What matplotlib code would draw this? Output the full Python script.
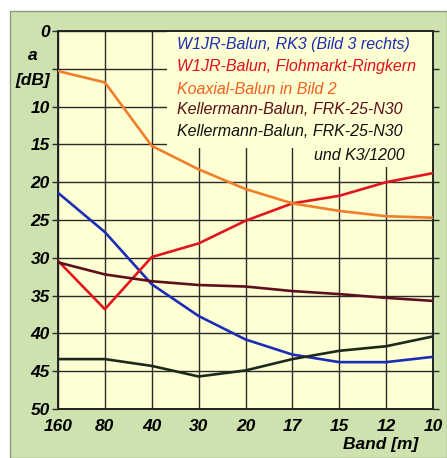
import matplotlib
matplotlib.use("Agg")
import matplotlib.pyplot as plt
from matplotlib.patches import Rectangle, Polygon

plt.rcParams["font.family"] = ["Liberation Sans", "DejaVu Sans"]

# Daten
bands = ["160", "80", "40", "30", "20", "17", "15", "12", "10"]
db_ticks = list(range(0, 51, 5))
db_labels = ["0", "", "10", "15", "20", "25", "30", "35", "40", "45", "50"]
w1jr_rk3 = [21.4, 26.6, 33.5, 37.7, 40.8, 42.8, 43.8, 43.8, 43.1]
w1jr_floh = [30.4, 36.8, 29.9, 28.1, 25.1, 22.8, 21.8, 20.0, 18.8]
koaxial = [5.3, 6.8, 15.2, 18.3, 20.9, 22.8, 23.8, 24.5, 24.7]
keller_frk = [30.6, 32.2, 33.1, 33.6, 33.8, 34.4, 34.8, 35.3, 35.7]
keller_k3 = [43.4, 43.4, 44.3, 45.7, 44.9, 43.4, 42.3, 41.7, 40.4]

names = [
    "W1JR-Balun, RK3 (Bild 3 rechts)",
    "W1JR-Balun, Flohmarkt-Ringkern",
    "Koaxial-Balun in Bild 2",
    "Kellermann-Balun, FRK-25-N30",
    "Kellermann-Balun, FRK-25-N30",
]
colors = ["#1c2db5", "#e0161e", "#f07e2a", "#5e0f1e", "#1b2a1c"]
text_colors = ["#1c2db5", "#e0101a", "#f0601e", "#5a0f1a", "#111111"]

fig = plt.figure(figsize=(4.47, 4.58), dpi=100)
fig.patch.set_facecolor("white")
# gruener Hintergrund
fig.patches.append(Rectangle((10 / 447, 0), 437 / 447, 1 - 11 / 458,
                             transform=fig.transFigure, facecolor="#cde2ae",
                             edgecolor="#8a9a80", linewidth=1.0, zorder=-5))

ax = fig.add_axes([58 / 447, 1 - 409 / 458, 375 / 447, 378 / 458])
ax.set_facecolor("#ffffd4")
x = list(range(len(bands)))
ax.set_xlim(0, len(bands) - 1)
ax.set_ylim(50, 0)
ax.set_yticks(db_ticks)
ax.set_yticklabels(db_labels)
ax.set_xticks(x)
ax.set_xticklabels(bands)
ax.grid(True, color="#2a2a2a", linewidth=1.0, zorder=1)
ax.set_axisbelow(True)
for s in ax.spines.values():
    s.set_color("#222222")
    s.set_linewidth(1.4)
ax.tick_params(axis="y", length=4, width=1.0, color="#2a2a2a", right=True, pad=2)
ax.tick_params(axis="x", length=0, pad=7)
for lab in ax.get_xticklabels() + ax.get_yticklabels():
    lab.set_fontsize(12.5)
    lab.set_fontstyle("italic")
    lab.set_fontweight("bold")

# Kasten fuer die Legende (verdeckt das Gitter)
box = Polygon([(0.29, 1.0), (1.0, 1.0), (1.0, 0.64), (0.645, 0.64),
               (0.645, 0.69), (0.29, 0.69)], closed=True, transform=ax.transAxes,
              facecolor="#ffffd4", edgecolor="none", zorder=1.5)
ax.add_patch(box)

series = [w1jr_rk3, w1jr_floh, koaxial, keller_frk, keller_k3]
for ys, c in zip(series, colors):
    ax.plot(x, ys, color=c, linewidth=1.9, zorder=3, solid_capstyle="round")

ys_text = [44, 67, 89, 110, 132]
for name, c, yp in zip(names, text_colors, ys_text):
    fig.text(177 / 447, 1 - yp / 458, name, color=c, fontsize=11.5,
             style="italic", va="center", ha="left")
fig.text(405 / 447, 1 - 156 / 458, "und K3/1200", color="#111111", fontsize=11.5,
         style="italic", va="center", ha="right")

fig.text(33 / 447, 1 - 56 / 458, "a", fontsize=12.5, style="italic",
         weight="bold", ha="center", va="center")
fig.text(33 / 447, 1 - 80 / 458, "[dB]", fontsize=12.5, style="italic",
         weight="bold", ha="center", va="center")
fig.text(418 / 447, 1 - 445 / 458, "Band [m]", fontsize=12.5, style="italic",
         weight="bold", ha="right", va="center")

fig.savefig("out.png", dpi=100, facecolor=fig.get_facecolor())
